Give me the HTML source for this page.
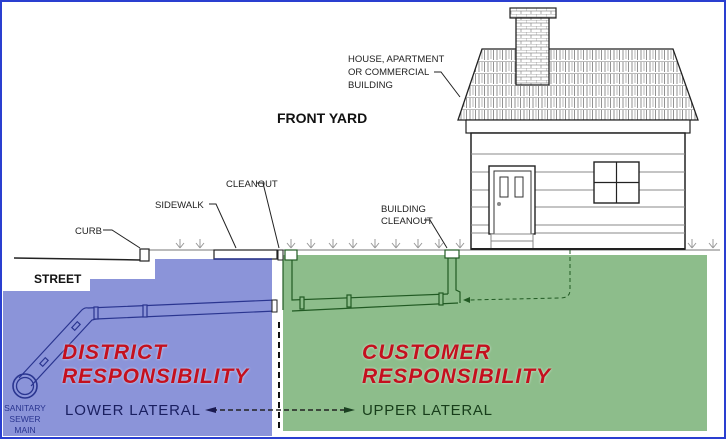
<!DOCTYPE html>
<html><head><meta charset="utf-8"><style>
html,body{margin:0;padding:0;background:#fff}
svg{display:block}
text{font-family:"Liberation Sans",Arial,sans-serif}
</style></head><body>
<svg width="726" height="439" viewBox="0 0 726 439" xmlns="http://www.w3.org/2000/svg">
<defs>
<pattern id="sh" x="0" y="49" width="9" height="12" patternUnits="userSpaceOnUse">
<rect width="9" height="12" fill="#fff"/>
<line x1="0" y1="0" x2="9" y2="0" stroke="#555" stroke-width="0.8"/>
<line x1="2" y1="1" x2="2" y2="11" stroke="#777" stroke-width="0.8"/>
<line x1="5" y1="1" x2="5" y2="10" stroke="#999" stroke-width="0.7"/>
<line x1="7.5" y1="1" x2="7.5" y2="11" stroke="#777" stroke-width="0.8"/>
</pattern>
<pattern id="br" x="516" y="14" width="10" height="6" patternUnits="userSpaceOnUse">
<rect width="10" height="6" fill="#fff"/>
<line x1="0" y1="0" x2="10" y2="0" stroke="#888" stroke-width="0.7"/>
<line x1="0" y1="0" x2="0" y2="3" stroke="#888" stroke-width="0.7"/>
<line x1="0" y1="3" x2="10" y2="3" stroke="#888" stroke-width="0.7"/>
<line x1="5" y1="3" x2="5" y2="6" stroke="#888" stroke-width="0.7"/>
</pattern>
<filter id="gl"><feGaussianBlur stdDeviation="1.2"/></filter>
</defs>
<rect x="0" y="0" width="726" height="439" fill="#fff"/>
<rect x="1" y="1" width="724" height="437" fill="none" stroke="#2a3fd0" stroke-width="2"/>

<polygon points="3,291 90,291 90,279 155,279 155,259 272,259 272,436 3,436" fill="#8b94d9"/>
<rect x="283" y="255" width="424" height="176" fill="#8dbd8b"/>

<line x1="14" y1="258" x2="140" y2="260" stroke="#222" stroke-width="1.5"/>
<line x1="140" y1="250" x2="720" y2="250" stroke="#777" stroke-width="1"/>
<rect x="140" y="249" width="9" height="12" fill="#fff" stroke="#222" stroke-width="1.2"/>
<rect x="214" y="250" width="63" height="9" fill="#fff" stroke="#222" stroke-width="1.2"/>
<line x1="214" y1="259" x2="272" y2="259" stroke="#2a3590" stroke-width="1.5"/>

<g stroke="#999" stroke-width="1" fill="none">
<path d="M180,248 l0,-9 M180,248 l-4,-5 M180,248 l4,-5"/>
<path d="M200,248 l0,-9 M200,248 l-4,-5 M200,248 l4,-5"/>
<path d="M291,248 l0,-9 M291,248 l-4,-5 M291,248 l4,-5"/>
<path d="M311,248 l0,-9 M311,248 l-4,-5 M311,248 l4,-5"/>
<path d="M333,248 l0,-9 M333,248 l-4,-5 M333,248 l4,-5"/>
<path d="M353,248 l0,-9 M353,248 l-4,-5 M353,248 l4,-5"/>
<path d="M375,248 l0,-9 M375,248 l-4,-5 M375,248 l4,-5"/>
<path d="M396,248 l0,-9 M396,248 l-4,-5 M396,248 l4,-5"/>
<path d="M418,248 l0,-9 M418,248 l-4,-5 M418,248 l4,-5"/>
<path d="M439,248 l0,-9 M439,248 l-4,-5 M439,248 l4,-5"/>
<path d="M460,248 l0,-9 M460,248 l-4,-5 M460,248 l4,-5"/>
<path d="M692,248 l0,-9 M692,248 l-4,-5 M692,248 l4,-5"/>
<path d="M713,248 l0,-9 M713,248 l-4,-5 M713,248 l4,-5"/>
</g>

<rect x="510" y="8" width="46" height="10" fill="url(#br)" stroke="#222" stroke-width="1.2"/>
<polygon points="482,49 673,49 698,120 458,120" fill="url(#sh)" stroke="#222" stroke-width="1.3"/>
<rect x="516" y="18" width="33" height="67" fill="url(#br)" stroke="#222" stroke-width="1.3"/>
<rect x="466" y="120" width="224" height="13" fill="#fff" stroke="#222" stroke-width="1.2"/>
<rect x="471" y="133" width="214" height="116" fill="#fff" stroke="#222" stroke-width="1.5"/>
<g stroke="#888" stroke-width="1">
<line x1="471" y1="154" x2="685" y2="154"/><line x1="471" y1="172" x2="685" y2="172"/>
<line x1="471" y1="190" x2="685" y2="190"/><line x1="471" y1="207" x2="685" y2="207"/>
<line x1="471" y1="225" x2="685" y2="225"/><line x1="471" y1="233" x2="685" y2="233"/>
</g>
<rect x="489" y="166" width="46" height="68" fill="#fff" stroke="#222" stroke-width="1.4"/>
<rect x="494" y="171" width="37" height="63" fill="#fff" stroke="#333" stroke-width="1"/>
<rect x="500" y="177" width="8" height="20" fill="#fff" stroke="#333"/>
<rect x="515" y="177" width="8" height="20" fill="#fff" stroke="#333"/>
<circle cx="499" cy="204" r="2" fill="#888"/>
<rect x="491" y="234" width="42" height="15" fill="#fff" stroke="#888"/>
<line x1="491" y1="241" x2="533" y2="241" stroke="#888"/>
<rect x="594" y="162" width="45" height="41" fill="#fff" stroke="#222" stroke-width="1.4"/>
<line x1="616.5" y1="162" x2="616.5" y2="203" stroke="#222" stroke-width="1.2"/>
<line x1="594" y1="182.5" x2="639" y2="182.5" stroke="#222" stroke-width="1.2"/>
<line x1="471" y1="249" x2="685" y2="249" stroke="#222" stroke-width="2"/>

<g fill="none" stroke="#2a3590" stroke-width="1.2">
<path d="M88,308 L276,300 M96,319 L276,311"/>
<path d="M19,378 L80,312 Q84,307 88,308 M31,386 L92,320 L96,319"/>
<rect x="94" y="307" width="4" height="12" fill="#8b94d9"/>
<rect x="143" y="305" width="4" height="12" fill="#8b94d9"/>
<rect x="40" y="360" width="8" height="4" transform="rotate(-47 44 362)" fill="#8b94d9"/>
<rect x="72" y="324" width="8" height="4" transform="rotate(-47 76 326)" fill="#8b94d9"/>
<circle cx="25" cy="386" r="12" stroke-width="1.6"/>
<circle cx="25" cy="386" r="8.5" stroke-width="1.3"/>
</g>
<rect x="272" y="300" width="5" height="12" fill="#fff" stroke="#222" stroke-width="1"/>
<rect x="278" y="250" width="5" height="10" fill="#fff" stroke="#222"/>

<g fill="none" stroke="#215a23" stroke-width="1.2">
<path d="M283,260 L283,310"/>
<path d="M292,260 L292,300 L448,294 M292,311 L458,303"/>
<path d="M448,258 L448,294 M456,258 L456,290 L460,292 L460,303"/>
<rect x="285" y="250" width="12" height="10" fill="#fff"/>
<rect x="445" y="250" width="14" height="8" fill="#fff"/>
<rect x="300" y="297" width="4" height="12" fill="#8dbd8b"/>
<rect x="347" y="295" width="4" height="12" fill="#8dbd8b"/>
<rect x="439" y="293" width="4" height="12" fill="#8dbd8b"/>
<path d="M570,250 L570,290 Q570,298 560,298 L468,300" stroke-dasharray="4,3" stroke-width="1"/>
</g>
<path d="M463,300 l7,-3 l0,6 z" fill="#215a23"/>

<line x1="279" y1="322" x2="279" y2="432" stroke="#111" stroke-width="2" stroke-dasharray="6,4"/>
<line x1="212" y1="410" x2="346" y2="410" stroke="#222" stroke-width="1.5" stroke-dasharray="5,3"/>
<path d="M205,410 l11,-3 l0,6 z" fill="#1a1a50"/>
<path d="M355,410 l-11,-3 l0,6 z" fill="#1a4020"/>

<g fill="none" stroke="#222" stroke-width="1">
<path d="M103,230 L112,230 L140,248"/>
<path d="M209,204 L216,204 L236,248"/>
<path d="M256,183 L263,183 L279,248"/>
<path d="M424,220 L430,220 L447,248"/>
<path d="M434,72 L441,72 L460,97"/>
</g>

<g font-size="9.5" fill="#222">
<text x="75" y="234">CURB</text>
<text x="155" y="208">SIDEWALK</text>
<text x="226" y="187">CLEANOUT</text>
<text x="381" y="212">BUILDING</text>
<text x="381" y="224">CLEANOUT</text>
<text x="348" y="62">HOUSE, APARTMENT</text>
<text x="348" y="75">OR COMMERCIAL</text>
<text x="348" y="88">BUILDING</text>
</g>
<text x="277" y="123" font-size="14" font-weight="bold" fill="#111">FRONT YARD</text>
<text x="34" y="283" font-size="12" font-weight="bold" fill="#111">STREET</text>
<g font-size="8.5" fill="#2a3590" text-anchor="middle">
<text x="25" y="411">SANITARY</text>
<text x="25" y="422">SEWER</text>
<text x="25" y="433">MAIN</text>
</g>
<g font-size="21" font-weight="bold" font-style="italic">
<text x="62" y="359" fill="#fff" opacity="0.7" filter="url(#gl)" textLength="104">DISTRICT</text>
<text x="62" y="383" fill="#fff" opacity="0.7" filter="url(#gl)" textLength="186">RESPONSIBILITY</text>
<text x="62" y="359" fill="#c4101e" textLength="104">DISTRICT</text>
<text x="62" y="383" fill="#c4101e" textLength="186">RESPONSIBILITY</text>
<text x="362" y="359" fill="#fff" opacity="0.7" filter="url(#gl)" textLength="128">CUSTOMER</text>
<text x="362" y="383" fill="#fff" opacity="0.7" filter="url(#gl)" textLength="188">RESPONSIBILITY</text>
<text x="362" y="359" fill="#c4101e" textLength="128">CUSTOMER</text>
<text x="362" y="383" fill="#c4101e" textLength="188">RESPONSIBILITY</text>
</g>
<text x="65" y="415" font-size="15" fill="#1a1f60" textLength="135">LOWER LATERAL</text>
<text x="362" y="415" font-size="15" fill="#173d1a" textLength="130">UPPER LATERAL</text>
</svg>
</body></html>
